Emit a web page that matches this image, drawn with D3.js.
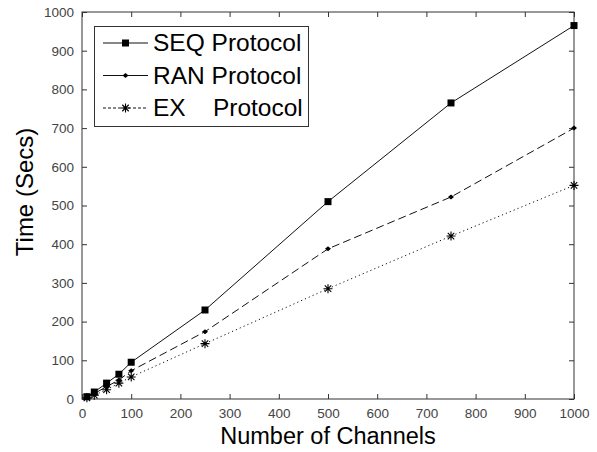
<!DOCTYPE html>
<html>
<head>
<meta charset="utf-8">
<script src="https://cdn.jsdelivr.net/npm/d3@7"></script>
<style>
  body { margin: 0; background: #fff; }
  svg { display: block; font-family: Arial, "Liberation Sans", sans-serif; }
</style>
</head>
<body>
<svg id="chart" width="597" height="452"></svg>
<script>
// data
const channels = [10, 25, 50, 75, 100, 250, 500, 750, 1000];
const seqTimes = [6, 18, 41, 64, 95, 230, 510, 765, 965];
const ranTimes = [4, 14, 32, 49, 73, 174, 388, 522, 700];
const exTimes  = [3, 10, 24, 41, 57, 143, 285, 421, 552];
const xTicks = [0, 100, 200, 300, 400, 500, 600, 700, 800, 900, 1000];
const yTicks = [0, 100, 200, 300, 400, 500, 600, 700, 800, 900, 1000];

const series = [
  { name: 'SEQ Protocol', values: seqTimes, dash: null, legendDash: null, marker: 'square' },
  { name: 'RAN Protocol', values: ranTimes, dash: '8,4', legendDash: null, marker: 'dot' },
  { name: 'EX    Protocol', values: exTimes, dash: '1.2,3', legendDash: '3,2', marker: 'star' }
];

const svg = d3.select('#chart');
const plotLeft = 82, plotRight = 574, plotTop = 12, plotBottom = 399;

const x = d3.scaleLinear().domain([0, 1000]).range([plotLeft, plotRight]);
const y = d3.scaleLinear().domain([0, 1000]).range([plotBottom, plotTop]);

const axisColor = '#333';
const labelColor = '#444';
const fmt = d3.format('d');

// tick marks (inward, mirrored on top and right)
svg.append('g')
  .attr('transform', `translate(0,${plotBottom})`)
  .call(d3.axisBottom(x).tickValues(xTicks).tickFormat(fmt).tickSizeInner(-5).tickSizeOuter(0).tickPadding(9))
  .call(g => g.select('.domain').remove())
  .call(g => g.selectAll('line').attr('stroke', axisColor))
  .call(g => g.selectAll('text').attr('font-size', 13.5).attr('fill', labelColor));

svg.append('g')
  .attr('transform', `translate(${plotLeft},0)`)
  .call(d3.axisLeft(y).tickValues(yTicks).tickFormat(fmt).tickSizeInner(-5).tickSizeOuter(0).tickPadding(8))
  .call(g => g.select('.domain').remove())
  .call(g => g.selectAll('line').attr('stroke', axisColor))
  .call(g => g.selectAll('text').attr('font-size', 13.5).attr('fill', labelColor));

svg.append('g')
  .attr('transform', `translate(0,${plotTop})`)
  .call(d3.axisTop(x).tickValues(xTicks).tickSizeInner(-5).tickSizeOuter(0).tickFormat(''))
  .call(g => g.select('.domain').remove())
  .call(g => g.selectAll('line').attr('stroke', axisColor));

svg.append('g')
  .attr('transform', `translate(${plotRight},0)`)
  .call(d3.axisRight(y).tickValues(yTicks).tickSizeInner(-5).tickSizeOuter(0).tickFormat(''))
  .call(g => g.select('.domain').remove())
  .call(g => g.selectAll('line').attr('stroke', axisColor));

// frame
svg.append('rect')
  .attr('x', plotLeft).attr('y', plotTop)
  .attr('width', plotRight - plotLeft).attr('height', plotBottom - plotTop)
  .attr('fill', 'none').attr('stroke', axisColor).attr('stroke-width', 1);

// markers
function drawMarker(g, type, cx, cy) {
  if (type === 'square') {
    g.append('rect').attr('x', cx - 3.5).attr('y', cy - 3.5)
      .attr('width', 7).attr('height', 7).attr('fill', '#000');
  } else if (type === 'dot') {
    g.append('path')
      .attr('d', `M${cx - 3},${cy}L${cx},${cy - 2.5}L${cx + 3},${cy}L${cx},${cy + 2.5}Z`)
      .attr('fill', '#000');
  } else {
    const r = 4.5, d = r * 0.72;
    g.append('path')
      .attr('d', `M${cx - r},${cy}H${cx + r}M${cx},${cy - r}V${cy + r}` +
        `M${cx - d},${cy - d}L${cx + d},${cy + d}M${cx - d},${cy + d}L${cx + d},${cy - d}`)
      .attr('stroke', '#000').attr('stroke-width', 1.1).attr('fill', 'none');
  }
}

const line = d3.line().x((d, i) => x(channels[i])).y(d => y(d));

series.forEach(s => {
  svg.append('path')
    .datum(s.values)
    .attr('d', line)
    .attr('fill', 'none')
    .attr('stroke', '#111')
    .attr('stroke-width', 1)
    .attr('stroke-dasharray', s.dash);
  const mg = svg.append('g');
  s.values.forEach((v, i) => drawMarker(mg, s.marker, x(channels[i]), y(v)));
});

// legend
const legend = svg.append('g');
legend.append('rect')
  .attr('x', 94.5).attr('y', 26.5).attr('width', 214).attr('height', 100)
  .attr('fill', '#fff').attr('stroke', axisColor);

series.forEach((s, i) => {
  const ly = 43 + i * 32.5;
  legend.append('line')
    .attr('x1', 103).attr('x2', 148).attr('y1', ly).attr('y2', ly)
    .attr('stroke', '#111').attr('stroke-dasharray', s.legendDash);
  drawMarker(legend, s.marker, 125.5, ly);
  legend.append('text')
    .attr('x', 153).attr('y', ly + 8)
    .attr('font-size', 24.5)
    .attr('fill', '#000')
    .style('white-space', 'pre')
    .text(s.name);
});

// axis titles
svg.append('text')
  .attr('x', (plotLeft + plotRight) / 2).attr('y', 444)
  .attr('text-anchor', 'middle')
  .attr('font-size', 23.5)
  .text('Number of Channels');

svg.append('text')
  .attr('transform', `translate(33,192) rotate(-90)`)
  .attr('text-anchor', 'middle')
  .attr('font-size', 24)
  .text('Time (Secs)');
</script>
</body>
</html>
